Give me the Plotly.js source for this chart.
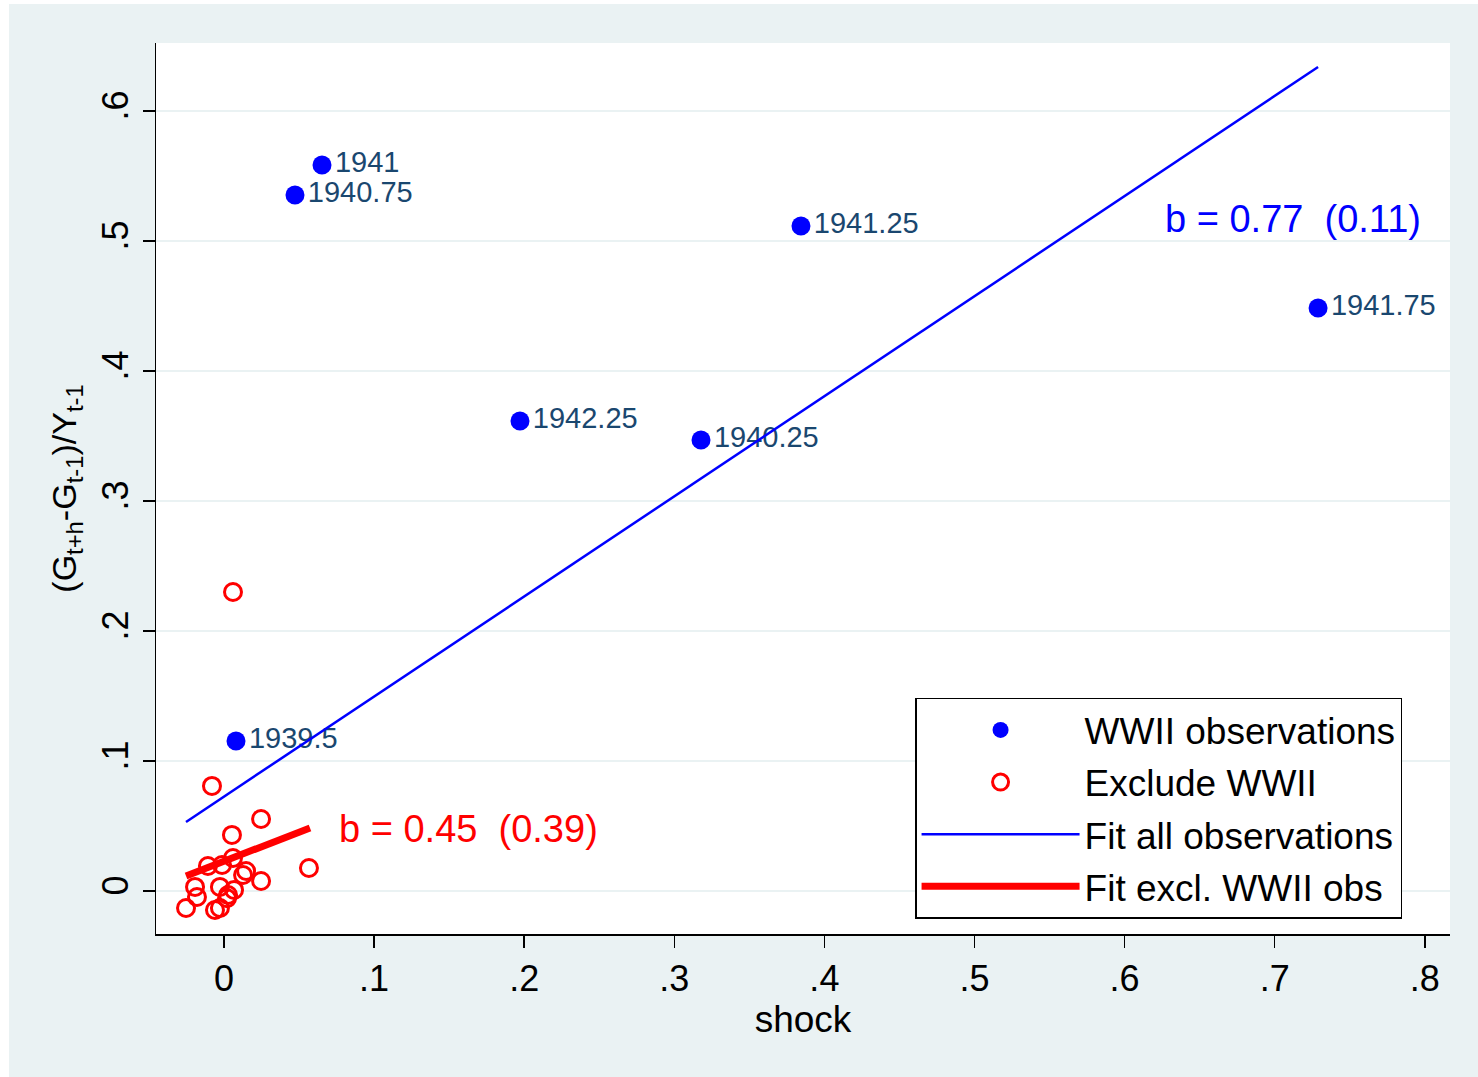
<!DOCTYPE html>
<html>
<head>
<meta charset="utf-8">
<script src="https://cdn.plot.ly/plotly-3.0.1.min.js"></script>
<style>
html,body{margin:0;padding:0;background:#ffffff;}
#chart{position:absolute;left:9px;top:4px;width:1469px;height:1073px;}
</style>
</head>
<body>
<div id="chart"></div>
<script>
// WWII observations (shock, cumulative change in G / Y)
var wwiiShock = [0.0653, 0.0473, 0.3844, 0.7289, 0.1972, 0.3178, 0.0080];
var wwiiResp  = [0.5585, 0.5354, 0.5115, 0.4485, 0.3615, 0.3469, 0.1154];
var wwiiLabels = ["1941", "1940.75", "1941.25", "1941.75", "1942.25", "1940.25", "1939.5"];

// Non-WWII observations
var otherShock = [-0.0080, 0.0247, 0.0053, 0.0566, 0.0247, 0.0127, 0.0147, -0.0253, -0.0193, -0.0180,
                  -0.0027, 0.0027, 0.0067, -0.0060, -0.0027, -0.0107, -0.0013, 0.0060, 0.0060, 0.0020];
var otherResp  = [0.0808, 0.0554, 0.0431, 0.0177, 0.0077, 0.0123, 0.0154, -0.0131, 0.0031, -0.0046,
                  0.0031, -0.0031, 0.0008, -0.0146, -0.0131, 0.0192, 0.0200, 0.0254, 0.2300, -0.0056];

// Fitted lines (end points)
var fitAllX = [-0.0253, 0.7289];
var fitAllY = [0.0531, 0.6338];
var fitExX = [-0.0253, 0.0573];
var fitExY = [0.0115, 0.0485];

var xTicks = [0, 0.1, 0.2, 0.3, 0.4, 0.5, 0.6, 0.7, 0.8];
var xTickText = ["0", ".1", ".2", ".3", ".4", ".5", ".6", ".7", ".8"];
var yTicks = [0, 0.1, 0.2, 0.3, 0.4, 0.5, 0.6];
var yTickText = ["0", ".1", ".2", ".3", ".4", ".5", ".6"];

var legendNames = ["WWII observations", "Exclude WWII", "Fit all observations", "Fit excl. WWII obs"];
var noteAll = "b = 0.77\u00A0\u00A0(0.11)";
var noteEx = "b = 0.45\u00A0\u00A0(0.39)";

var FONT = "Liberation Sans, Arial, sans-serif";
var BG = "#eaf2f3";

var traces = [
  {x: wwiiShock, y: wwiiResp, text: wwiiLabels, name: legendNames[0], type: "scatter",
   mode: "markers+text", textposition: "middle right", legendgroup: "g1",
   textfont: {family: FONT, size: 29, color: "#1a476f"},
   marker: {color: "#0000ff", size: 19, symbol: "circle"}},
  {x: otherShock, y: otherResp, name: legendNames[1], type: "scatter", mode: "markers", legendgroup: "g2",
   marker: {color: "#ff0000", size: 17, symbol: "circle-open", line: {color: "#ff0000", width: 3}}},
  {x: fitAllX, y: fitAllY, name: legendNames[2], type: "scatter", mode: "lines", legendgroup: "g3",
   line: {color: "#0000ff", width: 2.5}},
  {x: fitExX, y: fitExY, name: legendNames[3], type: "scatter", mode: "lines", legendgroup: "g4",
   line: {color: "#ff0000", width: 7}}
];

var layout = {
  width: 1469, height: 1073,
  paper_bgcolor: BG, plot_bgcolor: "#ffffff",
  margin: {l: 147, r: 28, t: 39, b: 143},
  font: {family: FONT, color: "#000000"},
  showlegend: true,
  legend: {x: 0.5866, y: 0.265, xanchor: "left", yanchor: "top",
           bgcolor: "#ffffff", bordercolor: "#000000", borderwidth: 1.5,
           font: {family: FONT, size: 37, color: "#000000"},
           itemwidth: 158, tracegroupgap: 1},
  xaxis: {range: [-0.0453, 0.8168], tickmode: "array", tickvals: xTicks, ticktext: xTickText,
          showgrid: false, zeroline: false, showline: true, linecolor: "#000000", linewidth: 1.5,
          ticks: "outside", ticklen: 12, tickwidth: 1.5, tickcolor: "#000000",
          tickfont: {family: FONT, size: 36, color: "#000000"},
          title: {text: "shock", font: {family: FONT, size: 37, color: "#000000"}, standoff: 1}},
  yaxis: {range: [-0.0331, 0.6523], tickmode: "array", tickvals: yTicks, ticktext: yTickText,
          showgrid: true, gridcolor: BG, gridwidth: 2.5, zeroline: false,
          showline: true, linecolor: "#000000", linewidth: 1.5,
          ticks: "outside", ticklen: 12, tickwidth: 1.5, tickcolor: "#000000", tickangle: -90,
          tickfont: {family: FONT, size: 36, color: "#000000"},
          title: {text: "(G<sub>t+h</sub>-G<sub>t-1</sub>)/Y<sub>t-1</sub>",
                  font: {family: FONT, size: 34, color: "#000000"}, standoff: 8}},
  annotations: [
    {x: 0.6256, y: 0.5169, xref: "x", yref: "y", text: noteAll, showarrow: false,
     xanchor: "left", yanchor: "middle", font: {family: FONT, size: 38, color: "#0000ff"}},
    {x: 0.0753, y: 0.0477, xref: "x", yref: "y", text: noteEx, showarrow: false,
     xanchor: "left", yanchor: "middle", font: {family: FONT, size: 38, color: "#ff0000"}}
  ]
};

Plotly.newPlot("chart", traces, layout, {displayModeBar: false, staticPlot: true});
</script>
</body>
</html>
